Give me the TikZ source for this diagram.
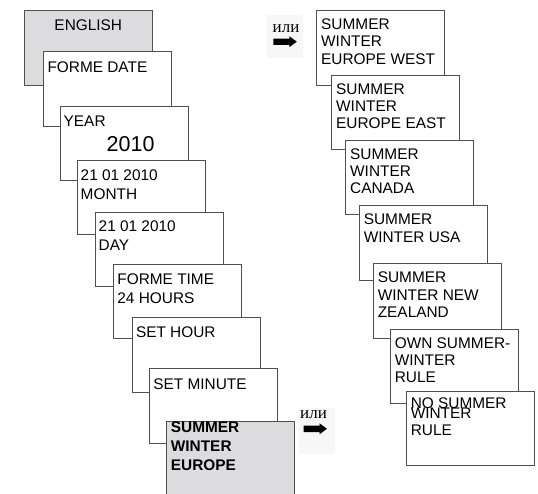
\documentclass[tikz,border=0pt]{standalone}
\usepackage{fontspec}
\setmainfont{Liberation Sans}
\newfontfamily\rufont{Liberation Serif}
\definecolor{panelgray}{RGB}{220,220,223}
\definecolor{edgegray}{RGB}{80,80,80}
% solid block arrow pointing right, starting at the given coordinate
\newcommand\blockarrow[1]{%
  \fill[black] ([shift={(0,-3.2)}]#1) -- ++(16,0) -- ++(0,-2.3) -- ++(7.5,5.5)
    -- ++(-7.5,5.5) -- ++(0,-2.3) -- ++(-16,0) -- cycle;}
\begin{document}
\begin{tikzpicture}[x=1pt,y=-1pt,
  panel/.style={draw=edgegray, line width=0.8pt, fill=white, minimum width=128pt,
    minimum height=74.5pt, inner sep=0pt, outer sep=0pt, anchor=north west},
  shaded/.style={panel, fill=panelgray},
  txt/.style={font=\fontsize{15.4}{17}\selectfont, inner sep=0pt, anchor=base west},
  bigtxt/.style={font=\fontsize{21.5}{24}\selectfont, inner sep=0pt, anchor=base west},
  boldtxt/.style={txt, font=\fontsize{15.4}{17}\selectfont\bfseries},
  ortxt/.style={font=\rufont\fontsize{17}{19}\selectfont, inner sep=0pt, anchor=base west},
  patch/.style={fill=black!3, draw=none}]
\useasboundingbox (0,0) rectangle (538,493);
\clip (0,0) rectangle (538,493);

% left column: menu steps
\node[shaded] (p1) at (24.3,10.7) {};
\node[txt, anchor=base] (t1) at ([shift={(64,19.5)}]p1.north west) {ENGLISH};

\node[panel] (p2) at (43.3,51.7) {};
\node[txt] (t2) at ([shift={(4,20.5)}]p2.north west) {FORME DATE};

\node[panel] (p3) at (60,106.3) {};
\node[txt] (t3a) at ([shift={(3.5,19.7)}]p3.north west) {YEAR};
\node[bigtxt] (t3b) at ([shift={(46.5,44.7)}]p3.north west) {2010};

\node[panel] (p4) at (77,160.3) {};
\node[txt] (t4a) at ([shift={(3.5,19.7)}]p4.north west) {21 01 2010};
\node[txt] (t4b) at ([shift={(3.5,38.7)}]p4.north west) {MONTH};

\node[panel] (p5) at (95,212) {};
\node[txt] (t5a) at ([shift={(3.5,19.7)}]p5.north west) {21 01 2010};
\node[txt] (t5b) at ([shift={(3.5,38.3)}]p5.north west) {DAY};

\node[panel] (p6) at (113.7,264.3) {};
\node[txt] (t6a) at ([shift={(3.5,20)}]p6.north west) {FORME TIME};
\node[txt] (t6b) at ([shift={(3.5,39)}]p6.north west) {24 HOURS};

\node[panel] (p7) at (132.3,317.7) {};
\node[txt] (t7) at ([shift={(3.5,20)}]p7.north west) {SET HOUR};

\node[panel] (p8) at (149.7,368.7) {};
\node[txt] (t8) at ([shift={(3.5,20.5)}]p8.north west) {SET MINUTE};

\node[shaded] (p9) at (166.7,421) {};
\node[boldtxt] (t9a) at ([shift={(4,11.7)}]p9.north west) {SUMMER};
\node[boldtxt] (t9b) at ([shift={(4,30.5)}]p9.north west) {WINTER};
\node[boldtxt] (t9c) at ([shift={(4,49)}]p9.north west) {EUROPE};

% right column: alternative rules
\node[panel] (q1) at (316.7,10.7) {};
\node[txt] (u1a) at ([shift={(4.3,18.7)}]q1.north west) {SUMMER};
\node[txt] (u1b) at ([shift={(4.3,36)}]q1.north west) {WINTER};
\node[txt] (u1c) at ([shift={(4.3,53.3)}]q1.north west) {EUROPE WEST};

\node[panel] (q2) at (331.7,75.3) {};
\node[txt] (u2a) at ([shift={(4.3,19)}]q2.north west) {SUMMER};
\node[txt] (u2b) at ([shift={(4.3,36.3)}]q2.north west) {WINTER};
\node[txt] (u2c) at ([shift={(4.3,53.6)}]q2.north west) {EUROPE EAST};

\node[panel] (q3) at (345.7,140.3) {};
\node[txt] (u3a) at ([shift={(4.3,19)}]q3.north west) {SUMMER};
\node[txt] (u3b) at ([shift={(4.3,36.3)}]q3.north west) {WINTER};
\node[txt] (u3c) at ([shift={(4.3,53.6)}]q3.north west) {CANADA};

\node[panel] (q4) at (359.3,205.7) {};
\node[txt] (u4a) at ([shift={(4.3,19)}]q4.north west) {SUMMER};
\node[txt] (u4b) at ([shift={(4.3,36.3)}]q4.north west) {WINTER USA};

\node[panel] (q5) at (373.3,263.7) {};
\node[txt] (u5a) at ([shift={(4.3,19)}]q5.north west) {SUMMER};
\node[txt] (u5b) at ([shift={(4.3,36.3)}]q5.north west) {WINTER NEW};
\node[txt] (u5c) at ([shift={(4.3,53.6)}]q5.north west) {ZEALAND};

\node[panel] (q6) at (390.3,329.3) {};
\node[txt] (u6a) at ([shift={(4.3,19)}]q6.north west) {OWN SUMMER-};
\node[txt] (u6b) at ([shift={(4.3,36.3)}]q6.north west) {WINTER};
\node[txt] (u6c) at ([shift={(4.3,53.6)}]q6.north west) {RULE};

\node[panel] (q7) at (406.3,391) {};
\node[txt] (u7a) at ([shift={(4.3,17.3)}]q7.north west) {NO SUMMER};
\node[txt] (u7b) at ([shift={(4.3,27.3)}]q7.north west) {WINTER};
\node[txt] (u7c) at ([shift={(4.3,44)}]q7.north west) {RULE};

% "or" markers with arrows
\fill[patch] (267,15) rectangle (303,58);
\node[ortxt] (or1) at (272.5,32.3) {или};
\coordinate (ar1) at (273.3,41.7);
\blockarrow{ar1}

\fill[patch] (299,408) rectangle (335,454);
\node[ortxt] (or2) at (300,418.3) {или};
\coordinate (ar2) at (303.5,428.8);
\blockarrow{ar2}
\end{tikzpicture}
\end{document}
